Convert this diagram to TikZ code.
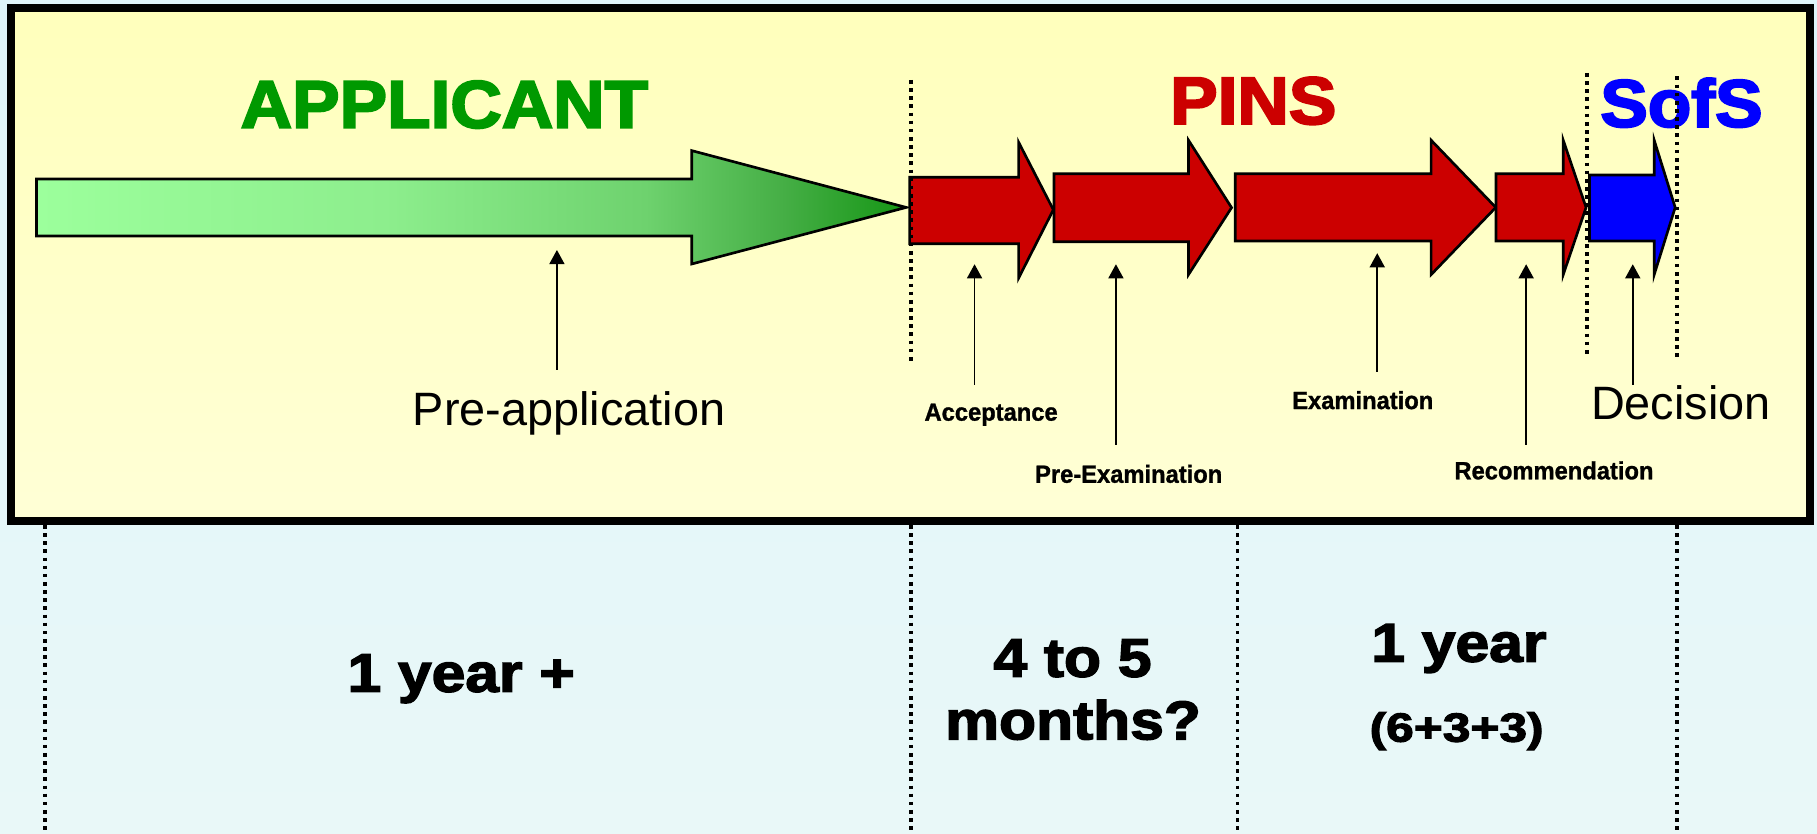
\documentclass[tikz,border=0pt]{standalone}
\usepackage{fontspec}
\setmainfont{Liberation Sans}
\newfontfamily\titlefont{Liberation Sans}[BoldFeatures={FakeBold=3}]
\newfontfamily\durfont{Liberation Sans}[BoldFeatures={FakeBold=2.5}]
\newfontfamily\smallfont{Liberation Sans}[BoldFeatures={FakeBold=1.2}]
\usetikzlibrary{arrows.meta}
\definecolor{bgtop}{HTML}{DFF4FA}
\definecolor{bgbot}{HTML}{E9F8F8}
\definecolor{yeltop}{HTML}{FFFFBC}
\definecolor{yelbot}{HTML}{FFFFD6}
\definecolor{pinsred}{HTML}{CC0000}
\definecolor{sofsblue}{HTML}{0000FF}
\definecolor{appgreen}{HTML}{009900}
\definecolor{ga}{HTML}{9CFF9C}
\definecolor{gb}{HTML}{8DEE8D}
\definecolor{gc}{HTML}{6ED26E}
\definecolor{gd}{HTML}{45AE45}
\definecolor{ge}{HTML}{159615}
\pgfdeclarehorizontalshading{greenshade}{100bp}{color(0bp)=(ga); color(25bp)=(ga); color(45bp)=(gb); color(60bp)=(gc); color(68bp)=(gd); color(75bp)=(ge); color(100bp)=(ge)}
\tikzset{
  title/.style={font=\titlefont\fontsize{33pt}{33pt}\selectfont\bfseries, anchor=base, inner sep=0pt, xscale=1.06},
  biglabel/.style={font=\fontsize{23pt}{23pt}\selectfont, anchor=base, inner sep=0pt},
  smalllabel/.style={font=\smallfont\fontsize{12.2pt}{12.2pt}\selectfont\bfseries, anchor=base, inner sep=0pt, xscale=0.955},
  durlabel/.style={font=\durfont\fontsize{26.8pt}{26.8pt}\selectfont\bfseries, anchor=base, inner sep=0pt, xscale=1.11},
  sublabel/.style={font=\durfont\fontsize{20pt}{20pt}\selectfont\bfseries, anchor=base, inner sep=0pt, xscale=1.22},
  blockarrow/.style={draw=black, line width=1.3pt, line join=miter},
  pointer/.style={line width=0.9pt, -{Triangle[length=7pt,width=7.4pt]}},
  divider/.style={line width=1.8pt, dash pattern=on 1.8pt off 2.2pt}
}
\begin{document}
\begin{tikzpicture}[x=0.02cm,y=-0.02cm]
\useasboundingbox (0,0) rectangle (1568,719);
\fill[top color=bgtop, bottom color=bgbot] (0,0) rectangle (1568,719);
% main box
\draw[line width=3.7pt, top color=yeltop, bottom color=yelbot] (9.3,6.8) rectangle (1562,449.5);

% titles
\node[title, text=appgreen] (tapp) at (383.5,110.2) {APPLICANT};
\node[title, text=pinsred] (tpins) at (1081.5,107) {PINS};
\node[title, text=sofsblue] (tsofs) at (1451,109.4) {SofS};

% green arrow
\draw[blockarrow, shading=greenshade] (31.5,154.5) -- (597,154.5) -- (597,130) -- (782,179) -- (597,227.8) -- (597,203.7) -- (31.5,203.7) -- cycle;
% red arrows
\draw[blockarrow, fill=pinsred] (785,153) -- (879,153) -- (879,122.7) -- (909,181) -- (879,240) -- (879,210.4) -- (785,210.4) -- cycle;
\draw[blockarrow, fill=pinsred] (909.6,150) -- (1025.6,150) -- (1025.6,121) -- (1062.8,179.2) -- (1025.6,237) -- (1025.6,208.6) -- (909.6,208.6) -- cycle;
\draw[blockarrow, fill=pinsred] (1066,150) -- (1235,150) -- (1235,121) -- (1290.8,179) -- (1235,237) -- (1235,208) -- (1066,208) -- cycle;
\draw[blockarrow, fill=pinsred] (1291,150) -- (1349,150) -- (1349,121) -- (1368.7,179) -- (1349,237) -- (1349,208) -- (1291,208) -- cycle;
% blue arrow
\draw[blockarrow, fill=sofsblue] (1371.7,151) -- (1427.5,151) -- (1427.5,121) -- (1445.6,179) -- (1427.5,237) -- (1427.5,208) -- (1371.7,208) -- cycle;

% labels
\node[biglabel] (lpre) at (491,367) {Pre-application};
\node[smalllabel] (lacc) at (855.3,363) {Acceptance};
\node[smalllabel] (lpex) at (974,416.6) {Pre-Examination};
\node[smalllabel] (lexa) at (1176,353) {Examination};
\node[smalllabel] (lrec) at (1341,413.6) {Recommendation};
\node[biglabel] (ldec) at (1450.5,362) {Decision};

% pointer arrows
\coordinate (p0s) at (480.6,319);   \coordinate (p0e) at (480.6,215.7);
\coordinate (p1s) at (841,332);     \coordinate (p1e) at (841,228);
\coordinate (p2s) at (963,384);     \coordinate (p2e) at (963,228);
\coordinate (p3s) at (1188.5,321);  \coordinate (p3e) at (1188.5,218.5);
\coordinate (p4s) at (1317,384);    \coordinate (p4e) at (1317,228);
\coordinate (p5s) at (1409,332);    \coordinate (p5e) at (1409,228);
\draw[pointer] (p0s) -- (p0e);
\draw[pointer] (p1s) -- (p1e);
\draw[pointer] (p2s) -- (p2e);
\draw[pointer] (p3s) -- (p3e);
\draw[pointer] (p4s) -- (p4e);
\draw[pointer] (p5s) -- (p5e);

% dotted dividers in the box
\coordinate (d1a) at (786,69);     \coordinate (d1b) at (786,313);
\coordinate (d2a) at (1369.6,63);  \coordinate (d2b) at (1369.6,308);
\coordinate (d3a) at (1447,66);    \coordinate (d3b) at (1447,310);
\draw[divider] (d1a) -- (d1b);
\draw[divider] (d2a) -- (d2b);
\draw[divider] (d3a) -- (d3b);

% dotted dividers below
\coordinate (b1a) at (39,453);   \coordinate (b1b) at (39,719);
\coordinate (b2a) at (786,453);  \coordinate (b2b) at (786,719);
\coordinate (b3a) at (1068,453); \coordinate (b3b) at (1068,719);
\coordinate (b4a) at (1447,453); \coordinate (b4b) at (1447,719);
\draw[divider] (b1a) -- (b1b);
\draw[divider] (b2a) -- (b2b);
\draw[divider] (b3a) -- (b3b);
\draw[divider] (b4a) -- (b4b);

% durations
\node[durlabel] (dur1) at (398,597) {1 year +};
\node[durlabel] (dur2a) at (925.5,584) {4 to 5};
\node[durlabel] (dur2b) at (926,638) {months?};
\node[durlabel] (dur3a) at (1259,571) {1 year};
\node[sublabel] (dur3b) at (1257,640) {(6+3+3)};
\end{tikzpicture}
\end{document}
